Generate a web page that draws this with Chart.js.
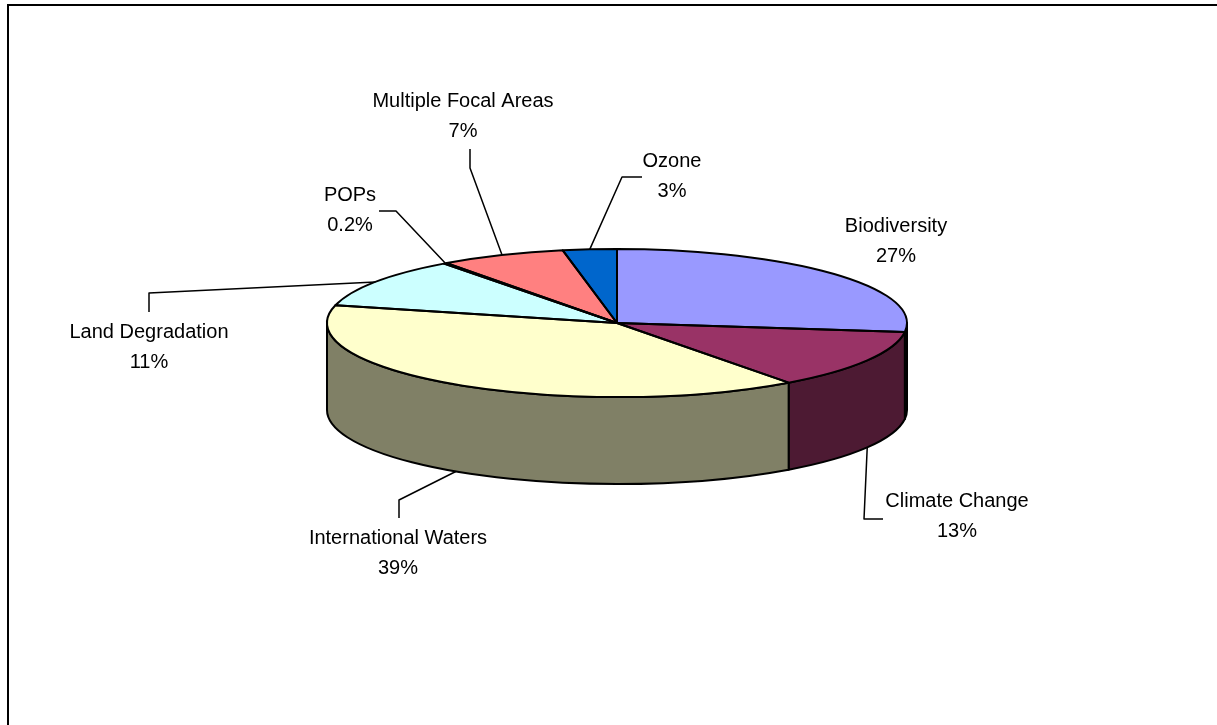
<!DOCTYPE html>
<html>
<head>
<meta charset="utf-8">
<title>Allocation by focal area</title>
<script src="https://cdn.jsdelivr.net/npm/chart.js@4.4.1/dist/chart.umd.min.js"></script>
<style>
  html, body { margin: 0; padding: 0; background: #fff; overflow: hidden; }
  .frame {
    position: absolute; left: 7px; top: 4px; width: 1230px; height: 740px;
    border-top: 2px solid #000; border-left: 2px solid #000;
  }
  #pie { position: absolute; left: 0; top: 0; }
</style>
</head>
<body>
<div class="frame"></div>
<canvas id="pie" width="1217" height="725"></canvas>
<script>
// data
const categories = [
  "Biodiversity",
  "Climate Change",
  "International Waters",
  "Land Degradation",
  "POPs",
  "Multiple Focal Areas",
  "Ozone",
];
const shares = [27, 13, 39, 11, 0.2, 7, 3];
const shareLabels = shares.map((v) => v + "%");

// styles
const topColors = ["#9999ff", "#993366", "#ffffcc", "#ccffff", "#660066", "#ff8080", "#0066cc"];
const sideColors = ["#4d4d80", "#4d1a33", "#808066", "#668080", "#330033", "#804040", "#003366"];

// pie lid geometry on screen
const CX = 617, CY = 323, RX = 290, RY = 74, DEPTH = 87;

// label placement relative to the lid centre: text centre, leader elbow, leader end
const labelLayout = [
  { at: [279, -82] },
  { at: [340, 193], elbow: [247, 196], end: [266, 196] },
  { at: [-219, 230], elbow: [-218, 177], end: [-218, 195] },
  { at: [-468, 24], elbow: [-468, -30], end: [-468, -11] },
  { at: [-267, -113], elbow: [-221, -112], end: [-238, -112] },
  { at: [-154, -207], elbow: [-147, -155], end: [-147, -174] },
  { at: [55, -147], elbow: [5, -146], end: [25, -146] },
];

const pie3d = {
  id: "pie3d",
  beforeDatasetsDraw(chart) {
    const ctx = chart.ctx;
    const arcs = chart.getDatasetMeta(0).data;

    // outer walls, only the front half can be seen
    ctx.save();
    ctx.lineWidth = 2;
    ctx.strokeStyle = "#000";
    ctx.lineJoin = "round";
    arcs.forEach((arc, i) => {
      const a = Math.max(arc.startAngle, 0);
      const b = Math.min(arc.endAngle, Math.PI);
      if (b <= a) return;
      ctx.beginPath();
      ctx.ellipse(CX, CY, RX, RY, 0, a, b);
      ctx.lineTo(CX + RX * Math.cos(b), CY + RY * Math.sin(b) + DEPTH);
      ctx.ellipse(CX, CY + DEPTH, RX, RY, 0, b, a, true);
      ctx.closePath();
      ctx.fillStyle = sideColors[i];
      ctx.fill();
      ctx.stroke();
    });
    ctx.restore();

    // the library draws its own arcs, squashed onto the lid
    const first = arcs[0];
    ctx.save();
    ctx.translate(CX, CY);
    ctx.scale(RX / first.outerRadius, RY / first.outerRadius);
    ctx.translate(-first.x, -first.y);
  },
  afterDatasetsDraw(chart) {
    const ctx = chart.ctx;
    ctx.restore();
    const arcs = chart.getDatasetMeta(0).data;

    // lid outlines
    ctx.save();
    ctx.lineWidth = 2;
    ctx.strokeStyle = "#000";
    ctx.lineJoin = "round";
    arcs.forEach((arc) => {
      ctx.beginPath();
      ctx.moveTo(CX, CY);
      ctx.ellipse(CX, CY, RX, RY, 0, arc.startAngle, arc.endAngle);
      ctx.closePath();
      ctx.stroke();
    });

    // leader lines
    ctx.lineWidth = 1.5;
    arcs.forEach((arc, i) => {
      const lay = labelLayout[i];
      if (!lay.elbow) return;
      const mid = (arc.startAngle + arc.endAngle) / 2;
      let x = CX + RX * Math.cos(mid);
      let y = CY + RY * Math.sin(mid);
      if (Math.sin(mid) > 0) y += DEPTH;
      ctx.beginPath();
      ctx.moveTo(x, y);
      ctx.lineTo(CX + lay.elbow[0], CY + lay.elbow[1]);
      ctx.lineTo(CX + lay.end[0], CY + lay.end[1]);
      ctx.stroke();
    });

    // labels
    ctx.fillStyle = "#000";
    ctx.font = '20px "Liberation Sans", Arial, sans-serif';
    ctx.textAlign = "center";
    ctx.textBaseline = "middle";
    categories.forEach((name, i) => {
      const [dx, dy] = labelLayout[i].at;
      ctx.fillText(name, CX + dx, CY + dy - 15);
      ctx.fillText(shareLabels[i], CX + dx, CY + dy + 15);
    });
    ctx.restore();
  },
};

new Chart(document.getElementById("pie"), {
  type: "pie",
  data: {
    labels: categories,
    datasets: [
      {
        data: shares,
        backgroundColor: topColors,
        borderWidth: 0,
        hoverOffset: 0,
      },
    ],
  },
  options: {
    responsive: false,
    animation: false,
    events: [],
    layout: { padding: 20 },
    plugins: {
      legend: { display: false },
      tooltip: { enabled: false },
    },
  },
  plugins: [pie3d],
});
</script>
</body>
</html>
